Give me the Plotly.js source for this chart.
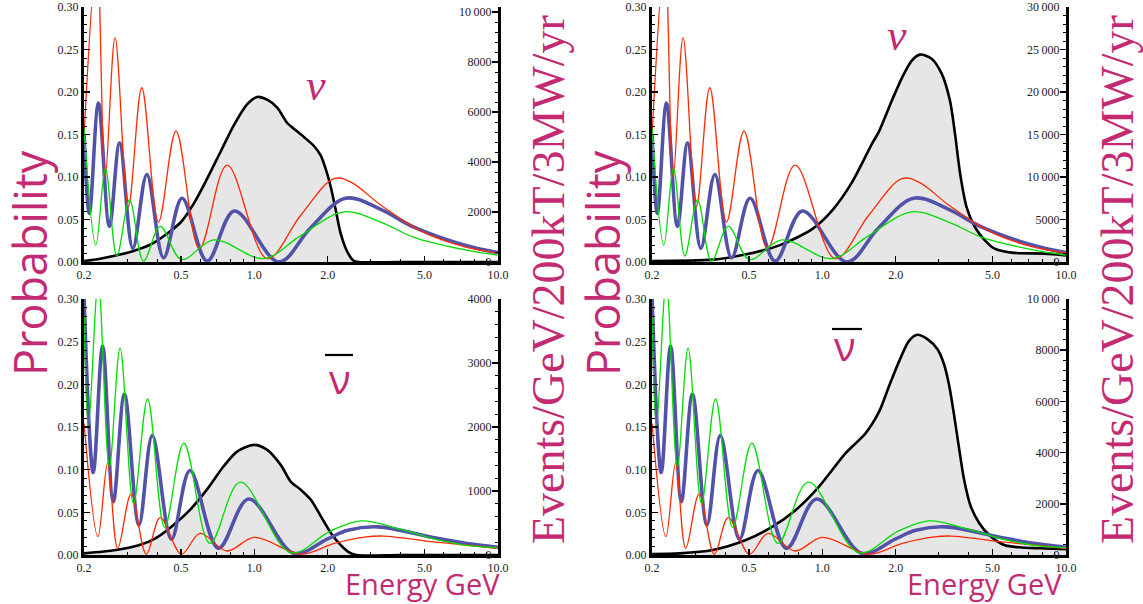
<!DOCTYPE html>
<html>
<head>
<meta charset="utf-8">
<script src="https://cdn.plot.ly/plotly-3.0.1.min.js"></script>
<style>
html,body{margin:0;padding:0;background:#fff;}
#chart{width:1143px;height:604px;}
#chart .xtick text, #chart .ytick text,
#chart .annotation[data-index="2"] text, #chart .annotation[data-index="3"] text,
#chart .annotation[data-index="6"] text, #chart .annotation[data-index="7"] text {
  font-family: "Liberation Serif", "DejaVu Serif", "Times New Roman", serif !important;
}
</style>
</head>
<body>
<div id="chart"></div>
<script>
// ---------- neutrino (nu) oscillation probabilities ----------
const nuRedE   = [0.2, 0.2256, 0.244, 0.268, 0.304, 0.345, 0.404, 0.477, 0.595, 0.773, 1.129, 1.55, 2.12, 2.49, 3.3, 4.52, 5.31, 7.26, 10];
const nuRedP   = [0.15, 0.36, 0.10, 0.264, 0.065, 0.205, 0.047, 0.154, 0.016, 0.114, 0.004, 0.055, 0.098, 0.094, 0.067, 0.041, 0.031, 0.018, 0.0105];
const nuBlueE  = [0.2, 0.2102, 0.229, 0.254, 0.2797, 0.317, 0.362, 0.424, 0.505, 0.64, 0.828, 1.26, 1.7, 2.37, 3.3, 4.52, 7.26, 10];
const nuBlueP  = [0.15, 0.057, 0.187, 0.042, 0.14, 0.016, 0.103, 0.005, 0.075, 0.001, 0.06, 0.0, 0.04, 0.075, 0.062, 0.041, 0.020, 0.011];
const nuGreenE = [0.2, 0.2234, 0.2447, 0.2725, 0.3074, 0.3508, 0.4109, 0.5013, 0.681, 1.094, 1.55, 2.33, 3.3, 4.52, 7.26, 10];
const nuGreenP = [0.157, 0.02, 0.11, 0.007, 0.073, 0.001, 0.042, 0.003, 0.026, 0.004, 0.031, 0.059, 0.047, 0.029, 0.0145, 0.008];

// ---------- antineutrino (nu-bar) oscillation probabilities ----------
const nbRedE   = [0.2, 0.2278, 0.2498, 0.2748, 0.312, 0.36, 0.411, 0.502, 0.598, 0.771, 1.0, 1.554, 2.13, 2.83, 3.4, 5.35, 7.34, 10];
const nbRedP   = [0.154, 0.0215, 0.1075, 0.0078, 0.0716, 0.001, 0.0438, 0.001, 0.0254, 0.0047, 0.0207, 0.001, 0.0137, 0.021, 0.0222, 0.0156, 0.0117, 0.0078];
const nbBlueE  = [0.2, 0.218, 0.2382, 0.2636, 0.2928, 0.3358, 0.381, 0.4566, 0.544, 0.712, 0.948, 1.454, 2.0, 2.42, 3.22, 5.35, 7.34, 10];
const nbBlueP  = [0.30, 0.0966, 0.245, 0.0626, 0.1885, 0.0352, 0.14, 0.0184, 0.099, 0.0078, 0.0657, 0.002, 0.019, 0.029, 0.033, 0.0207, 0.0137, 0.009];
const nbGreenE = [0.2, 0.2084, 0.2286, 0.2538, 0.281, 0.319, 0.3646, 0.4284, 0.5136, 0.6576, 0.8756, 1.41, 2.05, 2.74, 3.89, 5.35, 7.34, 10];
const nbGreenP = [0.28, 0.15, 0.32, 0.1036, 0.2425, 0.0606, 0.183, 0.0325, 0.131, 0.0137, 0.0853, 0.0027, 0.028, 0.040, 0.031, 0.0196, 0.0117, 0.0086];

// ---------- event spectra (Events/GeV/200kT/3MW/yr) ----------
const flux1E = [0.2, 0.2327, 0.2725, 0.319, 0.3738, 0.4379, 0.5, 0.5636, 0.64, 0.7256, 0.8234, 0.9335, 1.0265, 1.129, 1.241, 1.365, 1.453, 1.598, 1.757, 1.872, 1.962, 2.06, 2.16, 2.263, 2.41, 2.55, 2.68, 4, 10];
const flux1N = [40, 133, 267, 440, 693, 1133, 1600, 2333, 3333, 4400, 5467, 6306, 6600, 6494, 6173, 5560, 5333, 5000, 4640, 4267, 3733, 3000, 2067, 1133, 400, 60, 0, 0, 0];
const flux2E = [0.2, 0.3565, 0.4874, 0.6661, 0.9105, 1.0984, 1.325, 1.598, 1.705, 1.93, 2.13, 2.33, 2.52, 2.81, 3.09, 3.34, 3.505, 3.68, 3.91, 4.23, 4.65, 5.1, 5.97, 8.17, 10];
const flux2N = [120, 275, 900, 1960, 3900, 6080, 9400, 13900, 15300, 19000, 21760, 23700, 24400, 23920, 22160, 19020, 15100, 10390, 6470, 4120, 2550, 1570, 1100, 980, 780];
const flux3E = [0.2, 0.2705, 0.3378, 0.3924, 0.4567, 0.544, 0.637, 0.7466, 0.849, 0.9946, 1.13, 1.283, 1.41, 1.554, 1.709, 1.878, 2.065, 2.27, 2.45, 2.62, 4, 10];
const flux3N = [26, 78, 156, 261, 443, 704, 1017, 1382, 1616, 1720, 1643, 1408, 1147, 1017, 860, 600, 340, 150, 40, 0, 0, 0];
const flux4E = [0.2, 0.259, 0.3544, 0.4853, 0.6238, 0.7777, 0.9694, 1.246, 1.505, 1.71, 1.88, 2.07, 2.27, 2.458, 2.70, 2.97, 3.16, 3.32, 3.48, 3.65, 3.82, 4.07, 4.41, 4.84, 5.58, 6.43, 7.77, 10];
const flux4N = [39, 65, 196, 587, 1108, 1760, 2673, 3976, 4758, 5600, 6601, 7582, 8366, 8601, 8431, 8039, 7451, 6601, 5425, 4118, 2941, 1895, 1242, 784, 392, 300, 261, 222];

// ---------- ticks ----------
const xTickVals = [0.2, 0.5, 1, 2, 5, 10];
const xTickText = ['0.2', '0.5', '1.0', '2.0', '5.0', '10.0'];
const xMinorVals = [0.3, 0.4, 0.6, 0.7, 0.8, 0.9, 3, 4, 6, 7, 8, 9];
const ev1Ticks = [0, 2000, 4000, 6000, 8000, 10000];
const ev1Text  = ['0', '2000', '4000', '6000', '8000', '10\u2009000'];
const ev2Ticks = [0, 5000, 10000, 15000, 20000, 25000, 30000];
const ev2Text  = ['0', '5000', '10\u2009000', '15\u2009000', '20\u2009000', '25\u2009000', '30\u2009000'];
const ev3Ticks = [0, 1000, 2000, 3000, 4000];
const ev3Text  = ['0', '1000', '2000', '3000', '4000'];
const ev4Ticks = [0, 2000, 4000, 6000, 8000, 10000];
const ev4Text  = ['0', '2000', '4000', '6000', '8000', '10\u2009000'];

const MAG = '#c42a72';
const RED = '#ff2a00', GREEN = '#00dd00', BLUE = '#5252a8';
const SERIF = 'Liberation Serif, DejaVu Serif, serif';
const SANS = 'Open Sans';
const tickFont = {family: SERIF, size: 12, color: '#222'};

function xAxis(domain, anchor) {
  return {type: 'log', range: [Math.log10(0.2) - 0.0005, 1.0005], domain: domain, anchor: anchor,
    tickmode: 'array', tickvals: xTickVals, ticktext: xTickText, ticklabeloverflow: 'allow',
    ticks: 'inside', ticklen: 6, tickwidth: 1.5, tickcolor: '#000',
    minor: {tickmode: 'array', tickvals: xMinorVals, ticks: 'inside', ticklen: 3, tickwidth: 1, tickcolor: '#000'},
    showline: true, linecolor: '#000', linewidth: 2.5, showgrid: false, zeroline: false,
    tickfont: tickFont, fixedrange: true};
}
function evAxis(domain, anchor, top, vals, text, minorStep) {
  return {domain: domain, anchor: anchor, side: 'right', range: [0, top],
    tickmode: 'array', tickvals: vals, ticktext: text, ticklabelposition: 'inside', ticklabeloverflow: 'allow',
    ticks: 'inside', ticklen: 6, tickwidth: 1.5, tickcolor: '#000',
    minor: {dtick: minorStep, ticks: 'inside', ticklen: 3, tickwidth: 1, tickcolor: '#000'},
    showline: true, linecolor: '#000', linewidth: 2.5, showgrid: false, zeroline: false,
    tickfont: tickFont, fixedrange: true};
}
function probAxis(over, anchor) {
  return {overlaying: over, anchor: anchor, side: 'left', range: [0, 0.3],
    dtick: 0.05, tick0: 0, tickformat: '.2f', ticklabeloverflow: 'allow',
    ticks: 'inside', ticklen: 6, tickwidth: 1.5, tickcolor: '#000',
    minor: {dtick: 0.01, ticks: 'inside', ticklen: 3, tickwidth: 1, tickcolor: '#000'},
    showline: true, linecolor: '#000', linewidth: 3, showgrid: false, zeroline: false,
    tickfont: tickFont, fixedrange: true};
}

function fluxTrace(x, y, xa, ya) {
  return {x: x, y: y, xaxis: xa, yaxis: ya, type: 'scatter', mode: 'lines',
    fill: 'tozeroy', fillcolor: '#e6e6e6',
    line: {color: '#000', width: 2.6, shape: 'spline', smoothing: 0.8}, hoverinfo: 'skip', showlegend: false};
}
function probTrace(x, y, xa, ya, color, width) {
  return {x: x, y: y, xaxis: xa, yaxis: ya, type: 'scatter', mode: 'lines',
    line: {color: color, width: width, shape: 'spline', smoothing: 1}, hoverinfo: 'skip', showlegend: false};
}

const XL = [84 / 1143, 498 / 1143], XR = [652 / 1143, 1066 / 1143];
const YT = [342 / 604, 597 / 604], YB = [49 / 604, 305 / 604];

const data = [
  fluxTrace(flux1E, flux1N, 'x', 'y'),
  probTrace(nuBlueE, nuBlueP, 'x', 'y2', BLUE, 3.6),
  probTrace(nuRedE, nuRedP, 'x', 'y2', RED, 1.3),
  probTrace(nuGreenE, nuGreenP, 'x', 'y2', GREEN, 1.3),

  fluxTrace(flux2E, flux2N, 'x2', 'y3'),
  probTrace(nuBlueE, nuBlueP, 'x2', 'y4', BLUE, 3.6),
  probTrace(nuRedE, nuRedP, 'x2', 'y4', RED, 1.3),
  probTrace(nuGreenE, nuGreenP, 'x2', 'y4', GREEN, 1.3),

  fluxTrace(flux3E, flux3N, 'x3', 'y5'),
  probTrace(nbBlueE, nbBlueP, 'x3', 'y6', BLUE, 3.6),
  probTrace(nbRedE, nbRedP, 'x3', 'y6', RED, 1.3),
  probTrace(nbGreenE, nbGreenP, 'x3', 'y6', GREEN, 1.3),

  fluxTrace(flux4E, flux4N, 'x4', 'y7'),
  probTrace(nbBlueE, nbBlueP, 'x4', 'y8', BLUE, 3.6),
  probTrace(nbRedE, nbRedP, 'x4', 'y8', RED, 1.3),
  probTrace(nbGreenE, nbGreenP, 'x4', 'y8', GREEN, 1.3)
];

const probFont = {family: SANS, size: 45, color: MAG};
const evFont = {family: SERIF, size: 46, color: MAG};
const enFont = {family: SANS, size: 29, color: MAG};

function ann(text, x, y, font, angle, ya) {
  return {text: text, x: x, y: y, xref: 'paper', yref: 'paper', xanchor: 'center', yanchor: ya || 'middle',
    showarrow: false, font: font, textangle: angle || 0, borderpad: 0};
}

const layout = {
  width: 1143, height: 604,
  margin: {l: 0, r: 0, t: 0, b: 0},
  paper_bgcolor: '#fff', plot_bgcolor: '#fff',
  showlegend: false,
  xaxis: xAxis(XL, 'y'),
  yaxis: evAxis(YT, 'x', 10200, ev1Ticks, ev1Text, 400),
  yaxis2: probAxis('y', 'x'),
  xaxis2: xAxis(XR, 'y3'),
  yaxis3: evAxis(YT, 'x2', 30000, ev2Ticks, ev2Text, 1000),
  yaxis4: probAxis('y3', 'x2'),
  xaxis3: xAxis(XL, 'y5'),
  yaxis5: evAxis(YB, 'x3', 4000, ev3Ticks, ev3Text, 200),
  yaxis6: probAxis('y5', 'x3'),
  xaxis4: xAxis(XR, 'y7'),
  yaxis7: evAxis(YB, 'x4', 10000, ev4Ticks, ev4Text, 400),
  yaxis8: probAxis('y7', 'x4'),
  annotations: [
    ann('Probability', 30 / 1143, 341 / 604, probFont, -90),
    ann('Probability', 603 / 1143, 341 / 604, probFont, -90),
    ann('Events/GeV/200kT/3MW/yr', 548 / 1143, 324 / 604, evFont, -90),
    ann('Events/GeV/200kT/3MW/yr', 1117 / 1143, 324 / 604, evFont, -90),
    ann('Energy GeV', 422 / 1143, 0, enFont, 0, 'bottom'),
    ann('Energy GeV', 984 / 1143, 0, enFont, 0, 'bottom'),
    ann('<i>ν</i>', 316 / 1143, 519 / 604, {family: SERIF, size: 44, color: MAG}),
    ann('<i>ν</i>', 897 / 1143, 569 / 604, {family: SERIF, size: 44, color: MAG}),
    ann('ν', 340 / 1143, 226 / 604, {family: SANS, size: 40, color: MAG}),
    ann('ν', 845 / 1143, 259 / 604, {family: SANS, size: 40, color: MAG})
  ],
  shapes: [
    {type: 'line', xref: 'paper', yref: 'paper', x0: 325 / 1143, x1: 353 / 1143, y0: 249 / 604, y1: 249 / 604, line: {color: '#000', width: 2.2}},
    {type: 'line', xref: 'paper', yref: 'paper', x0: 832 / 1143, x1: 862 / 1143, y0: 275 / 604, y1: 275 / 604, line: {color: '#000', width: 2.2}}
  ]
};

Plotly.newPlot('chart', data, layout, {staticPlot: true, displayModeBar: false});
</script>
</body>
</html>
